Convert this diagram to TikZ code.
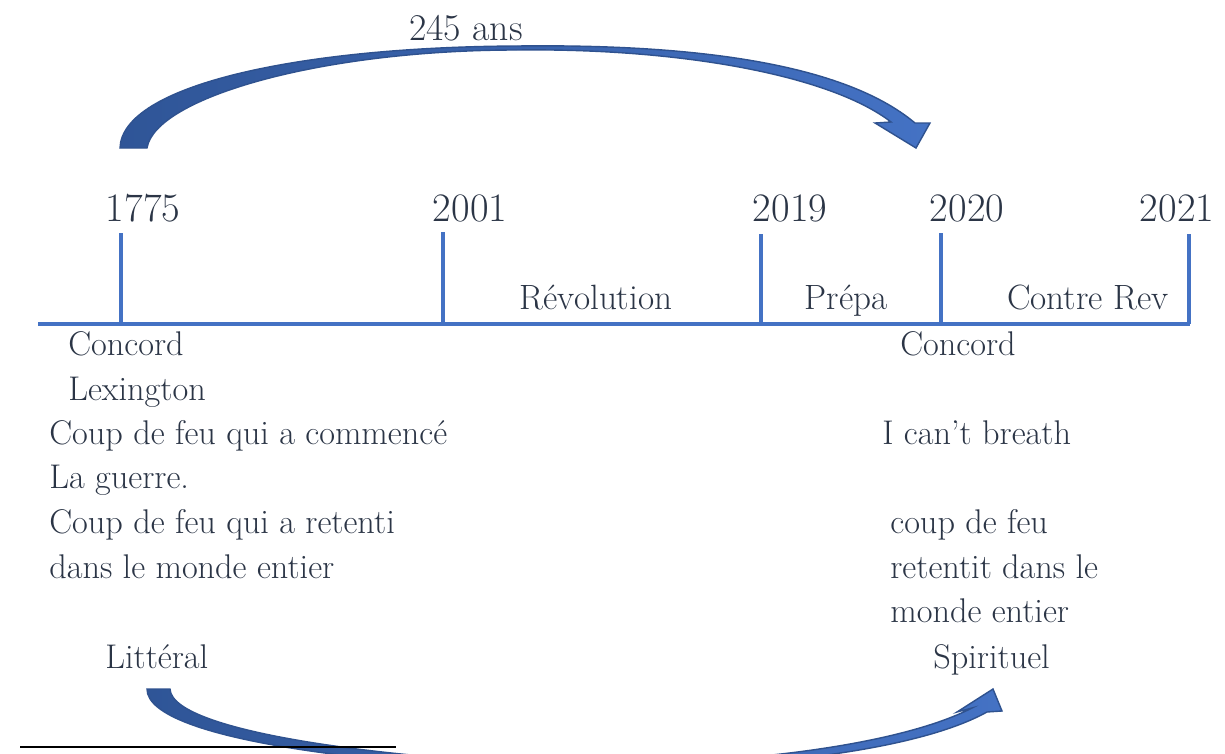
\documentclass[tikz,border=0pt]{standalone}
\usepackage{xcolor}
\usetikzlibrary{positioning}
\definecolor{txtslate}{HTML}{2B3546}
\definecolor{axisblue}{HTML}{4472C4}
\definecolor{arrowdark}{HTML}{2F5597}
\definecolor{arrowlight}{HTML}{4472C4}
\definecolor{arrowedge}{HTML}{2F528F}

\begin{document}
\begin{tikzpicture}[x=0.02cm, y=-0.02cm]
		\tikzstyle{every node}=[text=txtslate, inner sep=0pt]
		\tikzstyle{year}=[font=\fontsize{23}{27}\selectfont, anchor=base]
		\tikzstyle{period}=[font=\fontsize{20}{24}\selectfont, anchor=base]
		\tikzstyle{note}=[font=\fontsize{19.5}{23}\selectfont, anchor=base west]
		\tikzstyle{axis}=[line width=2pt, draw=axisblue]
		\tikzstyle{bigarrow}=[left color=arrowdark, right color=arrowlight, draw=arrowedge, line width=0.8pt]
		\useasboundingbox (0,0) rectangle (1225,754);
		% timeline
		\coordinate (axL) at (38,324);
		\coordinate (axR) at (1190,324);
		\coordinate (top1775) at (121,233);
		\coordinate (top2001) at (443,232);
		\coordinate (top2019) at (761,234);
		\coordinate (top2020) at (941,233);
		\coordinate (top2021) at (1189,234);
		\draw [axis] (axL) -- (axR);
		\foreach \yr in {1775,2001,2019,2020,2021}
			\draw [axis] (top\yr) -- (top\yr |- axL);
		\node [year] (y1775) at (143,221) {1775};
		\node [year] (y2001) at (470,221) {2001};
		\node [year] (y2019) at (790,221) {2019};
		\node [year] (y2020) at (967,221) {2020};
		\node [year] (y2021) at (1177,221) {2021};
		\node [period] (revol) at (596,309) {Révolution};
		\node [period] (prepa) at (846,309) {Prépa};
		\node [period] (contre) at (1088,309) {Contre Rev};
		% left column
		\node [note] (concL) at (68,355) {Concord};
		\node [note] (lexing) at (68,400) {Lexington};
		\node [note] (coupA) at (49,444) {Coup de feu qui a commencé};
		\node [note] (guerre) at (49,488) {La guerre.};
		\node [note] (coupB) at (49,533) {Coup de feu qui a retenti};
		\node [note] (mondeL) at (49,578) {dans le monde entier};
		\node [note] (litt) at (105,668) {Littéral};
		% right column
		\node [note] (concR) at (900,355) {Concord};
		\node [note] (breath) at (882,444) {I can’t breath};
		\node [note] (coupC) at (890,533) {coup de feu};
		\node [note] (retent) at (890,578) {retentit dans le};
		\node [note] (mondeR) at (890,622) {monde entier};
		\node [note] (spirit) at (933,668) {Spirituel};
		% 245 ans arrow
		\shadedraw [bigarrow] (120,148) .. controls (122,85) and (300,47) .. (517,46)
			.. controls (680,44) and (840,60) .. (915,123) -- (930,123) -- (916,148)
			-- (875,123) -- (891,122) .. controls (830,75) and (680,48) .. (517,50)
			.. controls (320,50) and (155,98) .. (147,148) -- cycle;
		\node [font=\fontsize{21.5}{25}\selectfont, anchor=base] (ans) at (466,40) {245 ans};
		% bottom arrow
		\begin{scope}
			\clip (0,0) rectangle (1225,754);
			\shadedraw [bigarrow] (147,689) .. controls (147,742) and (400,768) .. (570,770)
				.. controls (750,770) and (915,752) .. (987,712) -- (1002,711) -- (993,689)
				-- (957,712) -- (972,708) .. controls (900,745) and (740,766) .. (570,764)
				.. controls (420,762) and (172,735) .. (170,689) -- cycle;
		\end{scope}
		\coordinate (ruleL) at (20,747);
		\coordinate (ruleR) at (396,747);
		\draw [line width=1.2pt, black] (ruleL) -- (ruleR);
	\end{tikzpicture}
\end{document}
